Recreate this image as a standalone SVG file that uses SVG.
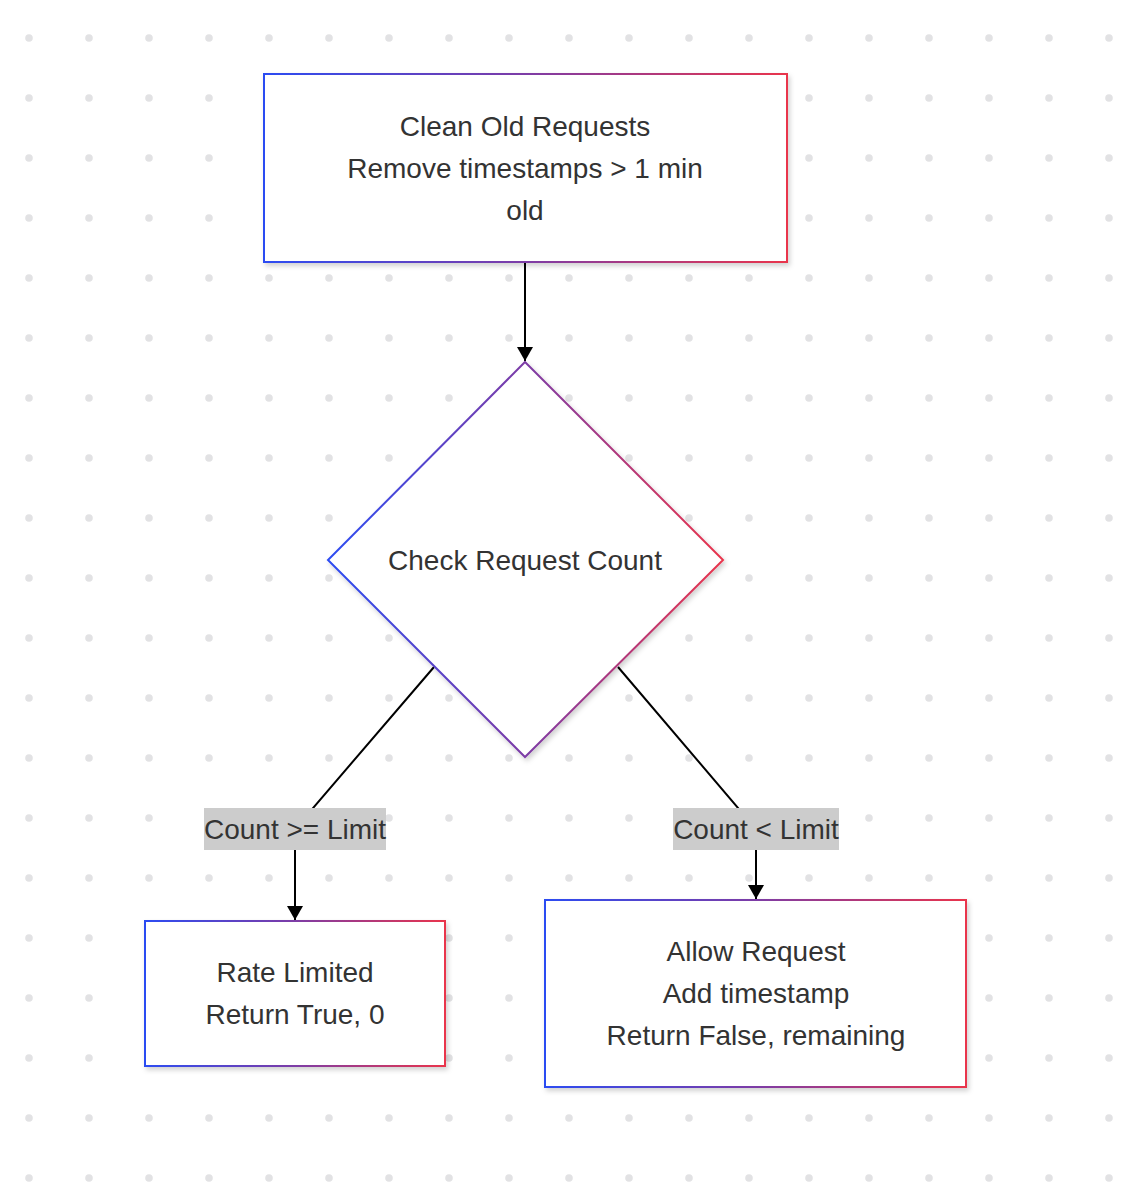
<svg xmlns="http://www.w3.org/2000/svg" width="1134" height="1186" viewBox="0 0 1134 1186">
  <style>
    .node { fill: #ffffff; stroke: url(#edge); stroke-width: 2; filter: url(#shadow); }
    .txt { font-family: "Liberation Sans", Arial, sans-serif; font-size: 28px; fill: #333333; text-anchor: middle; }
    .conn { fill: none; stroke: #000000; stroke-width: 2; }
    .lblbg { fill: #cccccc; }
  </style>
  <defs>
    <pattern id="dots" x="0" y="0" width="60" height="60" patternUnits="userSpaceOnUse">
      <circle cx="29" cy="38" r="3.8" fill="#e2e2e4"/>
    </pattern>
    <linearGradient id="edge" x1="0" y1="0" x2="1" y2="0">
      <stop offset="0" stop-color="#2c4cf2"/>
      <stop offset="0.5" stop-color="#7d3ca6"/>
      <stop offset="1" stop-color="#e9344c"/>
    </linearGradient>
    <filter id="shadow" x="-10%" y="-10%" width="130%" height="130%">
      <feDropShadow dx="2" dy="3" stdDeviation="2.5" flood-color="#000000" flood-opacity="0.18"/>
    </filter>
    <marker id="arrow" viewBox="0 0 14 16" refX="14" refY="8" markerWidth="14" markerHeight="16" markerUnits="userSpaceOnUse" orient="auto">
      <path d="M0,0 L14,8 L0,16 z" fill="#000000"/>
    </marker>
  </defs>
  <rect width="1134" height="1186" fill="#ffffff"/>
  <rect width="1134" height="1186" fill="url(#dots)"/>

  <g id="connectors">
    <path class="conn" d="M525,262 L525,361" marker-end="url(#arrow)"/>
    <path class="conn" d="M434,667 L295,829 L295,920" marker-end="url(#arrow)"/>
    <path class="conn" d="M618,667 L756,829 L756,899" marker-end="url(#arrow)"/>
    <g id="label-ge">
      <rect class="lblbg" x="204" y="808" width="182" height="42"/>
      <text class="txt" x="295" y="839">Count &gt;= Limit</text>
    </g>
    <g id="label-lt">
      <rect class="lblbg" x="673" y="808" width="166" height="42"/>
      <text class="txt" x="756" y="839">Count &lt; Limit</text>
    </g>
  </g>

  <g id="clean">
    <rect class="node" x="264" y="74" width="523" height="188"/>
    <text class="txt" x="525" y="136">Clean Old Requests</text>
    <text class="txt" x="525" y="178">Remove timestamps &gt; 1 min</text>
    <text class="txt" x="525" y="220">old</text>
  </g>

  <g id="check">
    <polygon class="node" points="525,362 723,560 525,757 328,560"/>
    <text class="txt" x="525" y="570">Check Request Count</text>
  </g>

  <g id="limited">
    <rect class="node" x="145" y="921" width="300" height="145"/>
    <text class="txt" x="295" y="982">Rate Limited</text>
    <text class="txt" x="295" y="1024">Return True, 0</text>
  </g>

  <g id="allow">
    <rect class="node" x="545" y="900" width="421" height="187"/>
    <text class="txt" x="756" y="961">Allow Request</text>
    <text class="txt" x="756" y="1003">Add timestamp</text>
    <text class="txt" x="756" y="1045">Return False, remaining</text>
  </g>
</svg>
